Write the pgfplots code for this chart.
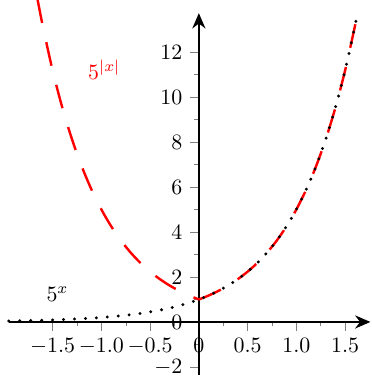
\documentclass[border=0pt]{standalone}
\usepackage{pgfplots}
\pgfplotsset{compat=1.18}
\usetikzlibrary{arrows.meta}

\begin{document}
\begin{tikzpicture}
\begin{axis}[
  scale only axis,
  width=5.8cm, height=5.8cm,
  axis lines=middle,
  axis line style={thick,-{Stealth[length=7pt,width=6pt]}},
  xmin=-1.95, xmax=1.76,
  ymin=-2.35, ymax=13.73,
  xtick={-1.5,-1,-0.5,0,0.5,1,1.5},
  xticklabels={$-1.5$,$-1.0$,$-0.5$,$0$,$0.5$,$1.0$,$1.5$},
  ytick={-2,0,2,4,6,8,10,12},
  hide obscured x ticks=false,
  hide obscured y ticks=false,
  minor x tick num=1,
  minor y tick num=1,
  tick align=outside,
  major tick length=4pt,
  minor tick length=2pt,
  clip=false,
]
% 5^|x|
\addplot[red, line width=1.1pt, dash pattern=on 11pt off 9pt, smooth] coordinates {
(-1.655,14.348) (-1.6,13.1326) (-1.5,11.1803) (-1.4,9.5186) (-1.3,8.1035)
(-1.2,6.8986) (-1.1,5.873) (-1.0,5) (-0.9,4.2567) (-0.8,3.6239) (-0.7,3.0852)
(-0.6,2.6265) (-0.5,2.2361) (-0.4,1.9037) (-0.3,1.6207) (-0.2,1.3797)
(-0.1,1.1746) (0,1)
};
\addplot[red, line width=1.1pt, dash pattern=on 11pt off 9pt, smooth] coordinates {
(0,1) (0.1,1.1746) (0.2,1.3797) (0.3,1.6207) (0.4,1.9037) (0.5,2.2361)
(0.6,2.6265) (0.7,3.0852) (0.8,3.6239) (0.9,4.2567) (1.0,5) (1.1,5.873)
(1.2,6.8986) (1.3,8.1035) (1.4,9.5186) (1.5,11.1803) (1.6,13.1326) (1.63,13.782)
};
% 5^x
\addplot[black, line width=1.5pt, line cap=round, dash pattern=on 0pt off 5pt, smooth] coordinates {
(-1.95,0.04335) (-1.9,0.04699) (-1.8,0.0552) (-1.7,0.06483) (-1.6,0.0761)
(-1.5,0.08944) (-1.4,0.1051) (-1.3,0.1234) (-1.2,0.1450) (-1.1,0.1703)
(-1.0,0.2) (-0.9,0.2349) (-0.8,0.2759) (-0.7,0.3241) (-0.6,0.3807)
(-0.5,0.4472) (-0.4,0.5253) (-0.3,0.6170) (-0.2,0.7248) (-0.1,0.8513)
(0,1) (0.1,1.1746) (0.2,1.3797) (0.3,1.6207) (0.4,1.9037) (0.5,2.2361)
(0.6,2.6265) (0.7,3.0852) (0.8,3.6239) (0.9,4.2567) (1.0,5) (1.1,5.873)
(1.2,6.8986) (1.3,8.1035) (1.4,9.5186) (1.5,11.1803) (1.6,13.1326) (1.63,13.782)
};
\node[red] at (axis cs:-0.97,11.2) {$5^{|x|}$};
\node at (axis cs:-1.45,1.25) {$5^{x}$};
\end{axis}
% frame the page round the axis as the reference does
\pgfresetboundingbox
\path[use as bounding box] ([shift={(-4pt,-1pt)}]current axis.south west)
  rectangle ([shift={(0.5pt,6pt)}]current axis.north east);
\end{tikzpicture}
\end{document}
